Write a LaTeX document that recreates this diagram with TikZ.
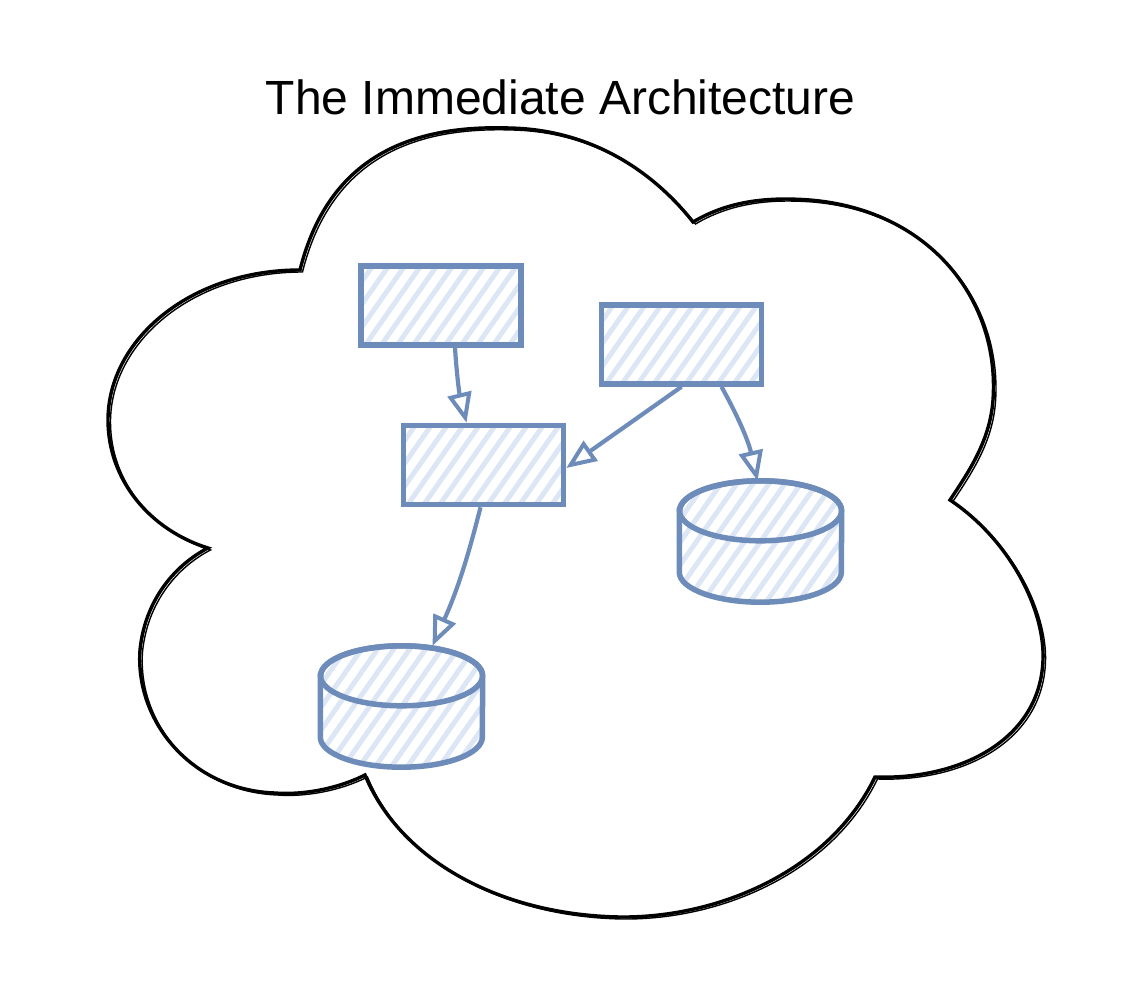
\documentclass[tikz,border=0pt]{standalone}
\usepackage{fontspec}
\setmainfont{Liberation Sans}
\usetikzlibrary{arrows.meta}
\definecolor{sketchblue}{HTML}{6E8CB9}
\definecolor{hatchblue}{HTML}{DCE6F5}
\tikzset{
	hatchline/.style={draw=hatchblue, line width=5pt},
	hatch/.style={path picture={
		\foreach \k in {-18,...,18}
			\draw[hatchline] ([xshift=\k*16pt]path picture bounding box.center) ++(235:160pt) -- ++(55:320pt);
	}},
	box/.style={draw=sketchblue, line width=5.5pt, minimum width=160pt, minimum height=79pt, inner sep=0pt, hatch},
	dbframe/.style={minimum width=162pt, minimum height=121pt, inner sep=0pt},
	dbline/.style={draw=sketchblue, line width=5.5pt},
	flow/.style={draw=sketchblue, line width=4.2pt, -{Triangle[open, length=30pt, width=24pt, line width=4pt]}},
	cloudline/.style={draw=black, line width=3.4pt, preaction={draw, line width=1.4pt, transform canvas={shift={(2.5pt,-2pt)}}}}
}
\begin{document}
\begin{tikzpicture}[x=1pt, y=-1pt]
	\useasboundingbox (0, 0) rectangle (1128, 1004);
	\node[anchor=base, font=\fontsize{48}{56}\selectfont] (title) at (560.5, 114) {The Immediate Architecture};

	% cloud
	\draw[cloudline] (300, 270) .. controls (330, 150) and (420, 125) .. (510, 128)
		.. controls (600, 130) and (660, 180) .. (693, 222)
		.. controls (730, 200) and (770, 197) .. (810, 200)
		.. controls (930, 210) and (1000, 300) .. (993, 400)
		.. controls (990, 440) and (970, 470) .. (950, 500)
		.. controls (1010, 540) and (1045, 610) .. (1043, 660)
		.. controls (1040, 740) and (960, 780) .. (875, 777)
		.. controls (830, 870) and (720, 918) .. (620, 917)
		.. controls (500, 915) and (400, 860) .. (365, 775)
		.. controls (335, 790) and (300, 795) .. (275, 793)
		.. controls (190, 790) and (135, 720) .. (140, 650)
		.. controls (145, 600) and (175, 565) .. (208, 548)
		.. controls (150, 530) and (108, 480) .. (108, 420)
		.. controls (108, 340) and (190, 270) .. cycle;

	% boxes
	\node[box] (ui) at (441, 305.5) {};
	\node[box] (api) at (681.5, 344.5) {};
	\node[box] (app) at (483.5, 465) {};

	% databases
	\node[dbframe] (cache) at (760.5, 541.5) {};
	\node[dbframe] (store) at (401.5, 706.5) {};
	\foreach \db in {cache, store} {
		\draw[dbline, hatch] ([yshift=-30pt]\db.north west) -- ([yshift=30pt]\db.south west)
			arc[start angle=180, end angle=360, x radius=81pt, y radius=30pt]
			-- ([yshift=-30pt]\db.north east)
			arc[start angle=0, end angle=180, x radius=81pt, y radius=30pt] -- cycle;
		\draw[dbline] ([yshift=-30pt]\db.north) ellipse [x radius=81pt, y radius=30pt];
	}

	% connectors
	\draw[flow] ([xshift=14pt]ui.south) to[bend right=5] ([xshift=-17pt]app.north);
	\draw[flow] (api.south) -- ([yshift=-3pt]app.east);
	\draw[flow] ([xshift=40pt]api.south) to[bend left=8] ([xshift=-3pt]cache.north);
	\draw[flow] ([xshift=-3pt]app.south) to[bend left=5] ([xshift=31pt]store.north);
\end{tikzpicture}
\end{document}
